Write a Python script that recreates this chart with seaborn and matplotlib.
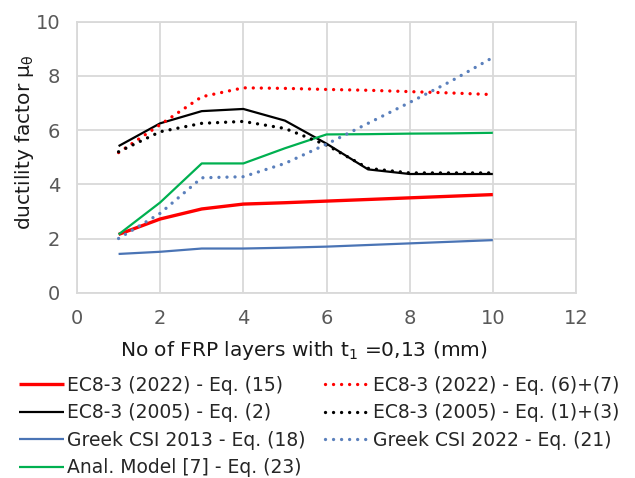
import matplotlib
matplotlib.use("Agg")
import matplotlib.pyplot as plt
import seaborn as sns
import pandas as pd

# Number of FRP layers
layers = [1, 2, 3, 4, 5, 6, 7, 8, 9, 10]

# Ductility factor per model
ec8_2022_eq15 = [2.15, 2.72, 3.09, 3.27, 3.32, 3.38, 3.44, 3.50, 3.56, 3.62]
ec8_2022_eq6_7 = [5.17, 6.20, 7.23, 7.56, 7.54, 7.50, 7.47, 7.42, 7.37, 7.31]
ec8_2005_eq2 = [5.41, 6.25, 6.70, 6.78, 6.35, 5.50, 4.55, 4.38, 4.38, 4.38]
ec8_2005_eq1_3 = [5.20, 5.94, 6.25, 6.32, 6.06, 5.45, 4.59, 4.42, 4.42, 4.42]
greek_2013_eq18 = [1.43, 1.51, 1.63, 1.63, 1.66, 1.70, 1.76, 1.82, 1.88, 1.94]
greek_2022_eq21 = [2.00, 2.93, 4.24, 4.28, 4.77, 5.48, 6.25, 7.02, 7.81, 8.68]
anal_eq23 = [2.15, 3.33, 4.77, 4.77, 5.33, 5.84, 5.85, 5.87, 5.88, 5.90]

labels = {
    "eq15": "EC8-3 (2022) - Eq. (15)",
    "eq67": "EC8-3 (2022) - Eq. (6)+(7)",
    "eq2": "EC8-3 (2005) - Eq. (2)",
    "eq13": "EC8-3 (2005) - Eq. (1)+(3)",
    "eq18": "Greek CSI 2013 - Eq. (18)",
    "eq21": "Greek CSI 2022 - Eq. (21)",
    "eq23": "Anal. Model [7] - Eq. (23)",
}

sns.set_style("white")
plt.rcParams["font.family"] = ["DejaVu Sans"]
plt.rcParams["mathtext.fontset"] = "dejavusans"

fig = plt.figure(figsize=(6.35, 4.78), dpi=100)
ax = fig.add_axes([77 / 635, 1 - 292.7 / 478, 499 / 635, 271 / 478])

dot = (0, (0.01, 2.4))
series = [
    ("eq15", ec8_2022_eq15, "#FF0000", "-", 2.4),
    ("eq2", ec8_2005_eq2, "#000000", "-", 1.6),
    ("eq18", greek_2013_eq18, "#4A74B5", "-", 1.6),
    ("eq23", anal_eq23, "#00B050", "-", 1.6),
    ("eq67", ec8_2022_eq6_7, "#FF0000", dot, 2.4),
    ("eq13", ec8_2005_eq1_3, "#000000", dot, 2.4),
    ("eq21", greek_2022_eq21, "#5B80BC", dot, 2.4),
]

handles = {}
for key, vals, color, ls, lw in series:
    df = pd.DataFrame({"x": layers, "y": vals})
    sns.lineplot(data=df, x="x", y="y", ax=ax, color=color, linewidth=lw,
                 label=labels[key])
    line = ax.lines[-1]
    line.set_linestyle(ls)
    line.set_dash_capstyle("round")
    line.set_solid_capstyle("butt")
    handles[key] = line

ax.set_xlim(0, 12)
ax.set_ylim(0, 10)
ax.set_xticks(range(0, 13, 2))
ax.set_yticks(range(0, 11, 2))
ax.grid(True, color="#D9D9D9", linewidth=1.3)
ax.set_axisbelow(True)
for sp in ax.spines.values():
    sp.set_visible(True)
    sp.set_color("#D9D9D9")
    sp.set_linewidth(1.3)
ax.tick_params(axis="both", length=0, labelsize=14, labelcolor="#595959", pad=12)

ax.set_xlabel(r"No of FRP layers with t$_1$ =0,13 (mm)", fontsize=14.5, color="#1a1a1a")
ax.xaxis.set_label_coords((303.5 - 77) / 499, (292.7 - 350) / 271)
ax.xaxis.label.set_verticalalignment("center")
ax.set_ylabel(r"ductility factor μ$_{\mathregular{θ}}$", fontsize=14.5, color="#1a1a1a")
ax.yaxis.set_label_coords((25 - 77) / 499, (292.7 - 142) / 271)
ax.yaxis.label.set_verticalalignment("center")

ax.get_legend().remove()
order = ["eq15", "eq2", "eq18", "eq23", "eq67", "eq13", "eq21"]
fig.legend([handles[k] for k in order], [labels[k] for k in order],
           ncol=2, loc="upper left", bbox_to_anchor=(19 / 635, 1 - 376 / 478),
           frameon=False, fontsize=13.5, handlelength=2.4, handletextpad=0.15,
           columnspacing=1.05, labelspacing=0.45, borderpad=0, borderaxespad=0)

fig.savefig("out.png", dpi=100)
